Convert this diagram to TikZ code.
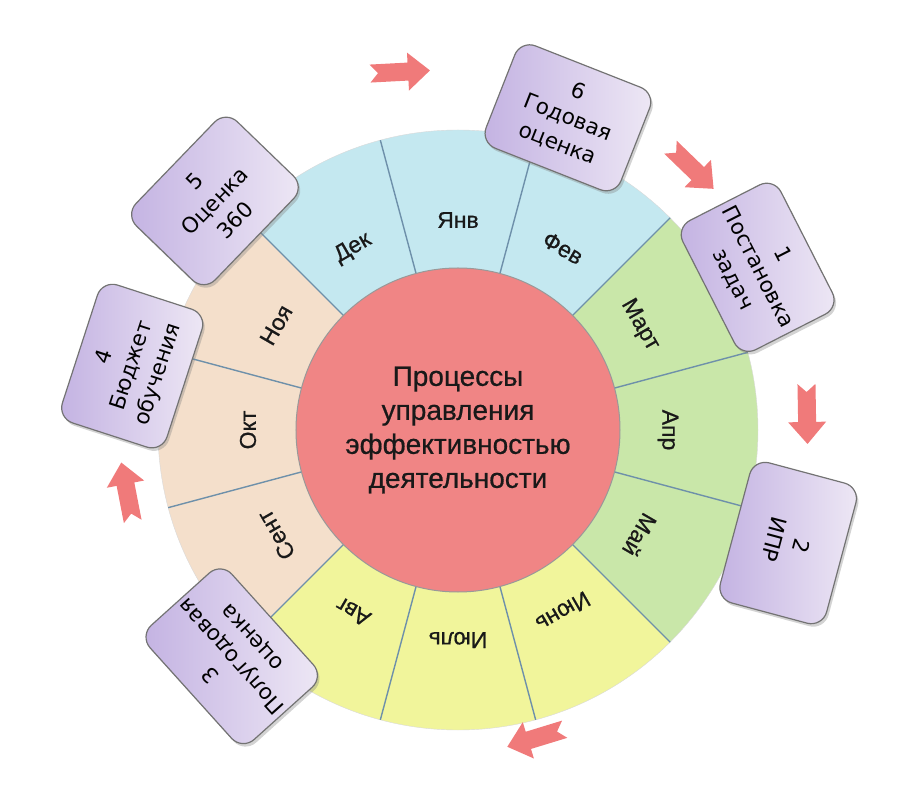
\documentclass[tikz,border=0pt]{standalone}
\usepackage{fontspec}
\setmainfont{Liberation Sans}
\newfontfamily\labelfont[FakeBold=0.6]{Liberation Sans}
\newfontfamily\boxfont{DejaVu Sans}
\usetikzlibrary{shadows}

\definecolor{winter}{HTML}{C4E8F0}
\definecolor{spring}{HTML}{C9E7A9}
\definecolor{summer}{HTML}{F1F59B}
\definecolor{autumn}{HTML}{F4DFCB}
\definecolor{hubred}{HTML}{F08585}
\definecolor{rim}{HTML}{6E90AA}
\definecolor{lilacdark}{HTML}{C3B2E2}
\definecolor{lilaclight}{HTML}{EEE8F5}
\definecolor{arrowred}{HTML}{F07A7A}

\tikzset{
	month/.style={font=\labelfont\fontsize{23}{26}\selectfont, text=black!90},
	stage/.style={draw=black!55, line width=1.2pt, rounded corners=16pt,
		minimum width=145pt, minimum height=110pt,
		left color=lilacdark, right color=lilaclight, align=center,
		font=\boxfont\fontsize{21.5}{28}\selectfont,
		drop shadow={shadow xshift=2pt, shadow yshift=-3pt, opacity=0.35}},
	divider/.style={draw=rim, line width=1.4pt},
	flow/.pic={
		\fill[arrowred] (-30pt,9pt) -- (8pt,9pt) -- (8pt,19pt) -- (30pt,0pt)
			-- (8pt,-19pt) -- (8pt,-9pt) -- (-30pt,-9pt) -- (-22pt,0pt) -- cycle;
	}
}

\begin{document}
\begin{tikzpicture}
		\useasboundingbox (-458pt,-378pt) rectangle (442pt,430pt);

		% seasons
		\fill[winter] (0,0) -- (45:300pt) arc[start angle=45, end angle=135, radius=300pt] -- cycle;
		\fill[autumn] (0,0) -- (135:300pt) arc[start angle=135, end angle=225, radius=300pt] -- cycle;
		\fill[summer] (0,0) -- (225:300pt) arc[start angle=225, end angle=315, radius=300pt] -- cycle;
		\fill[spring] (0,0) -- (-45:300pt) arc[start angle=-45, end angle=45, radius=300pt] -- cycle;
		\draw[black!15] (0,0) circle (300pt);

		\draw[divider] (15:150pt) -- (15:300pt);
		\draw[divider] (45:150pt) -- (45:300pt);
		\draw[divider] (75:150pt) -- (75:300pt);
		\draw[divider] (105:150pt) -- (105:300pt);
		\draw[divider] (135:150pt) -- (135:300pt);
		\draw[divider] (165:150pt) -- (165:300pt);
		\draw[divider] (195:150pt) -- (195:300pt);
		\draw[divider] (225:150pt) -- (225:300pt);
		\draw[divider] (255:150pt) -- (255:300pt);
		\draw[divider] (285:150pt) -- (285:300pt);
		\draw[divider] (315:150pt) -- (315:300pt);
		\draw[divider] (345:150pt) -- (345:300pt);

		\node[circle, minimum size=324pt, fill=hubred, draw=black!40, line width=1pt,
			align=center, font=\labelfont\fontsize{28}{34}\selectfont, text=black!90] (hub) at (0,0)
			{Процессы\\управления\\эффективностью\\деятельности};

		% months
		\node[month, rotate=0] (jan) at (90:210pt) {Янв};
		\node[month, rotate=-30] (feb) at (60:210pt) {Фев};
		\node[month, rotate=-60] (mar) at (30:210pt) {Март};
		\node[month, rotate=-90] (apr) at (0:210pt) {Апр};
		\node[month, rotate=-120] (may) at (-30:210pt) {Май};
		\node[month, rotate=-150] (jun) at (-60:210pt) {Июнь};
		\node[month, rotate=180] (jul) at (-90:210pt) {Июль};
		\node[month, rotate=150] (aug) at (-120:210pt) {Авг};
		\node[month, rotate=120] (sep) at (-150:210pt) {Сент};
		\node[month, rotate=90] (oct) at (180:210pt) {Окт};
		\node[month, rotate=60] (nov) at (150:210pt) {Ноя};
		\node[month, rotate=30] (dec) at (120:210pt) {Дек};

		% stages
		\node[stage, rotate=-21.5] (s6) at (70.6:331pt) {6\\Годовая\\оценка};
		\node[stage, rotate=-63] (s1) at (28.5:341pt) {1\\Постановка\\задач};
		\node[stage, rotate=-105] (s2) at (-18.9:349pt) {2\\ИПР};
		\node[stage, rotate=132] (s3) at (-135:320pt) {3\\Полугодовая\\оценка};
		\node[stage, rotate=72] (s4) at (168.9:332pt) {4\\Бюджет\\обучения};
		\node[stage, rotate=46] (s5) at (136.7:334pt) {5\\Оценка\\360};

		% arrows
		\pic[rotate=3] at (-58pt,358pt) {flow};
		\pic[rotate=-44] at (234pt,262pt) {flow};
		\pic[rotate=-89] at (349pt,16pt) {flow};
		\pic[rotate=197] at (78pt,-308pt) {flow};
		\pic[rotate=101] at (-331pt,-62pt) {flow};
	\end{tikzpicture}
\end{document}
